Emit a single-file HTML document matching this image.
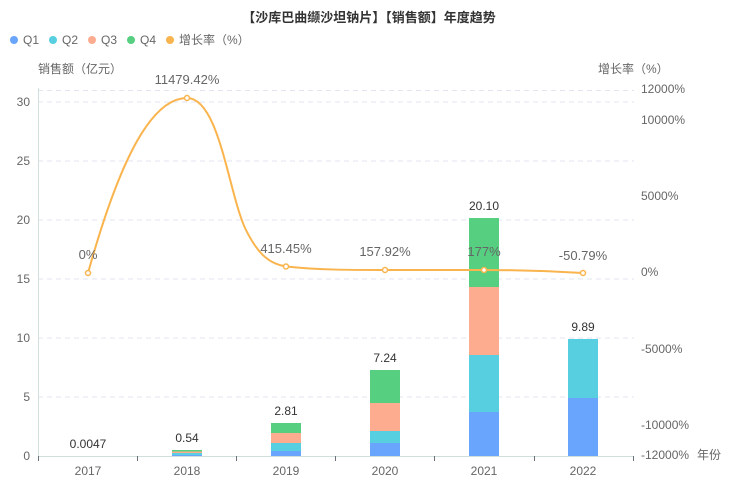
<!DOCTYPE html>
<html><head><meta charset="utf-8"><style>
body{margin:0;background:#fff;}
svg{display:block;font-family:"Liberation Sans","Noto Sans CJK SC",sans-serif;}
</style></head><body>
<svg width="739" height="482" viewBox="0 0 739 482">
<text x="369" y="22" text-anchor="middle" font-size="13" font-weight="bold" fill="#333">【沙库巴曲缬沙坦钠片】【销售额】年度趋势</text>
<g font-size="12" fill="#666">
<circle cx="14" cy="40" r="4" fill="#69a5fc"/><text x="23" y="44">Q1</text>
<circle cx="53" cy="40" r="4" fill="#58cfe0"/><text x="62" y="44">Q2</text>
<circle cx="92" cy="40" r="4" fill="#fdac90"/><text x="101" y="44">Q3</text>
<circle cx="131" cy="40" r="4" fill="#56cf80"/><text x="140" y="44">Q4</text>
<circle cx="170" cy="40" r="4" fill="#fab44e"/><text x="179" y="44">增长率（%）</text>
<text x="38" y="73">销售额（亿元）</text>
<text x="598" y="73">增长率（%）</text>
</g>
<g stroke="#e0e4ef" stroke-dasharray="5,4" stroke-width="1">
<line x1="38" x2="634" y1="90.5" y2="90.5"/>
<line x1="38" x2="634" y1="102" y2="102"/>
<line x1="38" x2="634" y1="161" y2="161"/>
<line x1="38" x2="634" y1="220" y2="220"/>
<line x1="38" x2="634" y1="279" y2="279"/>
<line x1="38" x2="634" y1="338" y2="338"/>
<line x1="38" x2="634" y1="397" y2="397"/>
</g>
<line x1="38.5" x2="38.5" y1="88" y2="456" stroke="#cfe0dc"/>
<line x1="38" x2="634" y1="456.5" y2="456.5" stroke="#cfe0dc"/>
<g stroke="#6e7079">
<line x1="38.5" x2="38.5" y1="456" y2="461"/><line x1="137.5" x2="137.5" y1="456" y2="461"/><line x1="236.5" x2="236.5" y1="456" y2="461"/><line x1="335.5" x2="335.5" y1="456" y2="461"/><line x1="434.5" x2="434.5" y1="456" y2="461"/><line x1="534.5" x2="534.5" y1="456" y2="461"/><line x1="633.5" x2="633.5" y1="456" y2="461"/>
</g>
<g font-size="12" fill="#666" text-anchor="end">
<text x="30" y="460">0</text><text x="30" y="401">5</text><text x="30" y="342">10</text><text x="30" y="283">15</text><text x="30" y="224">20</text><text x="30" y="165">25</text><text x="30" y="106">30</text>
</g>
<g font-size="12" fill="#666">
<text x="641" y="93">12000%</text><text x="641" y="124">10000%</text><text x="641" y="200">5000%</text><text x="641" y="276">0%</text><text x="641" y="353">-5000%</text><text x="641" y="429">-10000%</text><text x="641" y="459">-12000%</text><text x="697" y="459">年份</text>
</g>
<g font-size="12" fill="#666" text-anchor="middle">
<text x="88" y="475">2017</text><text x="187" y="475">2018</text><text x="286" y="475">2019</text><text x="385" y="475">2020</text><text x="484" y="475">2021</text><text x="583" y="475">2022</text>
</g>
<!-- bars -->
<g>
<rect x="172" y="455" width="30" height="1" fill="#69a5fc"/>
<rect x="172" y="453" width="30" height="2" fill="#58cfe0"/>
<rect x="172" y="451" width="30" height="2" fill="#fdac90"/>
<rect x="172" y="450" width="30" height="1.5" fill="#56cf80"/>
<rect x="271" y="451" width="30" height="5" fill="#69a5fc"/>
<rect x="271" y="443" width="30" height="8" fill="#58cfe0"/>
<rect x="271" y="433" width="30" height="10" fill="#fdac90"/>
<rect x="271" y="423" width="30" height="10" fill="#56cf80"/>
<rect x="370" y="443" width="30" height="13" fill="#69a5fc"/>
<rect x="370" y="431" width="30" height="12" fill="#58cfe0"/>
<rect x="370" y="403" width="30" height="28" fill="#fdac90"/>
<rect x="370" y="370" width="30" height="33" fill="#56cf80"/>
<rect x="469" y="412" width="30" height="44" fill="#69a5fc"/>
<rect x="469" y="355" width="30" height="57" fill="#58cfe0"/>
<rect x="469" y="287" width="30" height="68" fill="#fdac90"/>
<rect x="469" y="218" width="30" height="69" fill="#56cf80"/>
<rect x="568" y="398" width="30" height="58" fill="#69a5fc"/>
<rect x="568" y="339" width="30" height="59" fill="#58cfe0"/>
</g>
<g font-size="12" fill="#333" text-anchor="middle">
<text x="88" y="448">0.0047</text><text x="187" y="442">0.54</text><text x="286" y="415">2.81</text><text x="385" y="362">7.24</text><text x="484" y="210">20.10</text><text x="583" y="331">9.89</text>
</g>
<path d="M88,273 C118,165 150,98 187,98 C219,98 228,190 245,228 C258,255 270,264 286,266.5 C320,270 350,270 385,270 C420,270 450,270 484,270 C520,270 550,271 583,273" fill="none" stroke="#fab44e" stroke-width="2"/>
<g fill="#fff" stroke="#fab44e" stroke-width="1.5">
<circle cx="88" cy="273" r="2.5"/><circle cx="187" cy="98" r="2.5"/><circle cx="286" cy="266.5" r="2.5"/><circle cx="385" cy="270" r="2.5"/><circle cx="484" cy="270" r="2.5"/><circle cx="583" cy="273" r="2.5"/>
</g>
<g font-size="13" fill="#666" text-anchor="middle">
<text x="88" y="259">0%</text><text x="187" y="84">11479.42%</text><text x="286" y="253">415.45%</text><text x="385" y="256">157.92%</text><text x="484" y="256">177%</text><text x="583" y="260">-50.79%</text>
</g>
</svg>
</body></html>
